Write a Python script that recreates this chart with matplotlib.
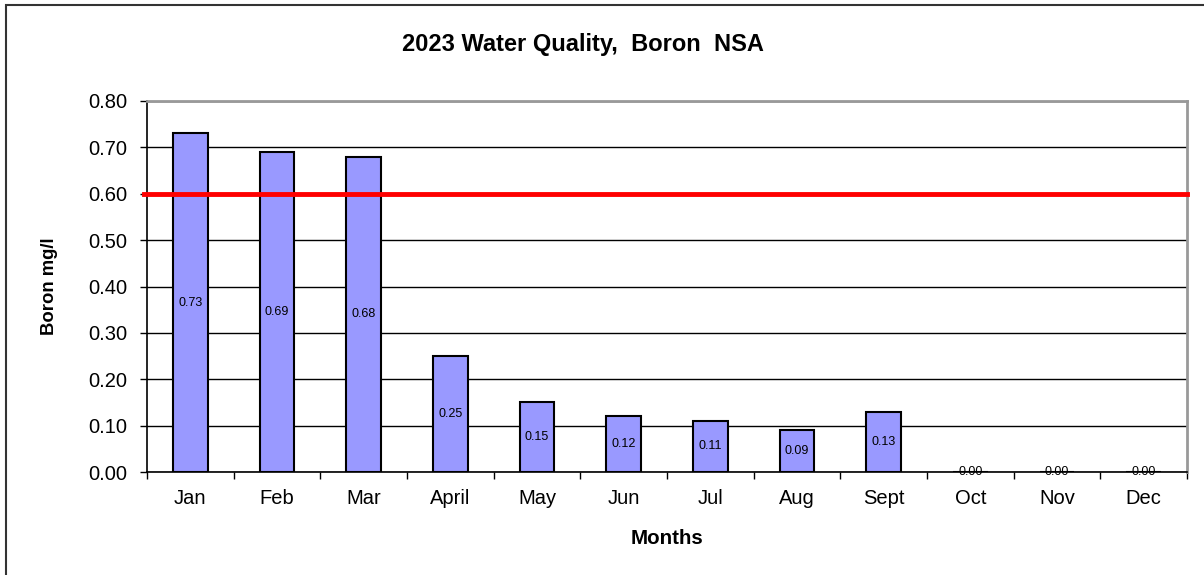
import numpy as np
import matplotlib.pyplot as plt
from matplotlib.patches import Rectangle

plt.rcParams['font.family'] = ['Liberation Sans', 'DejaVu Sans']

# Datos
meses = ['Jan', 'Feb', 'Mar', 'April', 'May', 'Jun', 'Jul', 'Aug', 'Sept', 'Oct', 'Nov', 'Dec']
boro = [0.73, 0.69, 0.68, 0.25, 0.15, 0.12, 0.11, 0.09, 0.13, 0.00, 0.00, 0.00]
limite = 0.60

fig = plt.figure(figsize=(12.04, 5.75), dpi=100)
ax = fig.add_axes([147 / 1204, 1 - 472 / 575, (1187 - 147) / 1204, (472 - 101) / 575])

x = np.arange(len(meses))
ax.bar(x, boro, width=0.4, color='#9999ff', edgecolor='black', linewidth=1.5, zorder=3)

for xi, v in zip(x, boro):
    ax.text(xi, v / 2, f'{v:.2f}', ha='center', va='center', fontsize=9, zorder=4)

# Límite
ax.axhline(limite, xmin=-0.003, color='red', linewidth=3.5, zorder=5, clip_on=False)

ax.set_xlim(-0.5, len(meses) - 0.5)
ax.set_ylim(0, 0.8)
ax.set_yticks(np.arange(0, 0.81, 0.1))
ax.set_yticklabels([f'{t:.2f}' for t in np.arange(0, 0.81, 0.1)], fontsize=14.5)
ax.set_xticks(x)
ax.set_xticklabels(meses, fontsize=14.5)
ax.set_xticks(np.arange(-0.5, len(meses), 1), minor=True)
ax.tick_params(axis='x', which='major', length=0, pad=12.5)
ax.tick_params(axis='x', which='minor', length=5, width=1)
ax.tick_params(axis='y', length=5, width=1, pad=9)
ax.grid(axis='y', color='black', linewidth=1, zorder=0)

for s in ['top', 'right']:
    ax.spines[s].set_color('#999999')
    ax.spines[s].set_linewidth(2)
ax.spines['left'].set_linewidth(1.2)
ax.spines['bottom'].set_linewidth(1.2)

ax.set_xlabel('Months', fontsize=14.8, fontweight='bold', labelpad=14.5)
ax.set_ylabel('Boron mg/l', fontsize=13.3, fontweight='bold', labelpad=22)
fig.text(583 / 1204, 1 - 45 / 575, '2023 Water Quality,  Boron  NSA', ha='center', va='center',
         fontsize=17, fontweight='bold')

# Marco de la figura
fig.patches.append(Rectangle((6 / 1204, -0.05), 1.2, 1 - 5 / 575 + 0.05, transform=fig.transFigure,
                             fill=False, edgecolor='#333333', linewidth=1.5))

fig.savefig('out.png', dpi=100)
